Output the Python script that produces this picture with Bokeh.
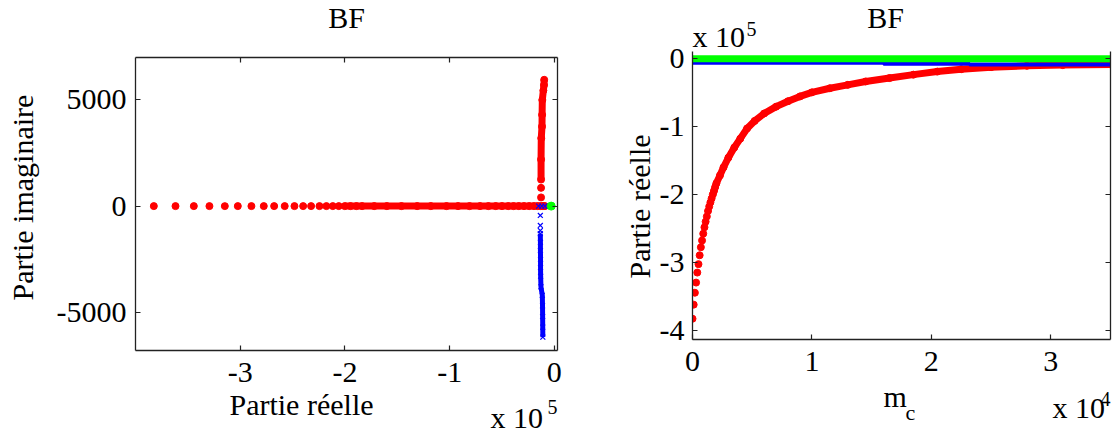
import math
from bokeh.plotting import figure
from bokeh.models import Range1d, FixedTicker, LinearAxis, Label, GridBox
from bokeh.embed import file_html
from bokeh.resources import INLINE

FONT = "Liberation Serif"

# ---------------- data ----------------
# Real eigenvalue branch (red): m_c in units of 1e4, real part in units of 1e5
red_mc = [0.00, 0.01, 0.02, 0.03, 0.04, 0.05, 0.06, 0.07, 0.08, 0.09, 0.10,
          0.11, 0.12, 0.13, 0.14, 0.15, 0.16, 0.17, 0.18, 0.19, 0.20,
          0.23, 0.26, 0.30, 0.35, 0.40, 0.457, 0.52, 0.60, 0.70, 0.80, 0.90,
          1.00, 1.15, 1.30, 1.45, 1.65, 1.85, 2.05, 2.25, 2.50, 2.80, 3.10, 3.50]
red_re = [-3.825, -3.618, -3.443, -3.294, -3.147, -3.023, -2.893, -2.775, -2.676, -2.575, -2.482,
          -2.399, -2.323, -2.243, -2.177, -2.116, -2.059, -2.002, -1.947, -1.890, -1.836,
          -1.72, -1.60, -1.46, -1.31, -1.18, -1.03, -0.92, -0.81, -0.71, -0.63, -0.56,
          -0.50, -0.44, -0.39, -0.34, -0.29, -0.24, -0.195, -0.16, -0.13, -0.11, -0.10, -0.09]
red_im = [0.0] * len(red_re)

# complex branch, positive imaginary part (red): real in 1e5, imaginary as is
redc_re = [-0.127, -0.127, -0.127, -0.127, -0.125, -0.118, -0.117, -0.115, -0.105, -0.099, -0.097]
redc_im = [410, 860, 1250, 2200, 3200, 3750, 4300, 5000, 5450, 5700, 5950]

# complex branch, negative imaginary part (blue crosses)
bluec_re = [-0.134, -0.134, -0.134, -0.134, -0.133, -0.133, -0.132, -0.132, -0.131, -0.128,
            -0.115, -0.113, -0.112, -0.111, -0.110]
bluec_im = [-440, -910, -1150, -1300, -1700, -2100, -2500, -2900, -3300, -3800,
            -4200, -4700, -5200, -5700, -6170]
# blue crosses on the real axis
blue0_re = [-0.15, -0.12, -0.09, -0.06, -0.04]
blue0_im = [0, 0, 0, 0, 0]
# green pole
green_re_l = [-0.03]
green_im_l = [0]

# right panel: blue and green real parts vs m_c
blue_mc = [0.0, 1.6, 1.6, 2.32, 2.32, 3.5]
blue_re = [-0.064, -0.064, -0.08, -0.08, -0.09, -0.09]
green_mc = [0.0, 3.5]
green_re = [-0.007, -0.007]

# ticks
l_xticks = [-3, -2, -1, 0]
l_yticks = [-5000, 0, 5000]
r_xticks = [0, 1, 2, 3]
r_yticks = [-4, -3, -2, -1, 0]

RED, BLUE, GREEN = "#ff0000", "#0000ff", "#00ff00"


def style_axis(ax, ticks, standoff, labels=True):
    ax.ticker = FixedTicker(ticks=ticks)
    if labels:
        ax.major_label_overrides = {t: str(t) for t in ticks}
        ax.major_label_text_font_size = "30px"
        ax.major_label_standoff = standoff
    else:
        ax.major_label_overrides = {t: "" for t in ticks}
        ax.major_label_text_font_size = "0px"
        ax.major_label_standoff = 0
    ax.major_label_text_font = FONT
    ax.major_label_text_color = "black"
    ax.major_tick_in = 5
    ax.major_tick_out = 0
    ax.minor_tick_line_color = None
    ax.axis_line_color = "#222222"
    ax.axis_line_width = 1.3
    ax.major_tick_line_color = "#222222"
    ax.major_tick_line_width = 1.2


# ---------------- left panel ----------------
LX0, LX1, LY0, LY1 = -4.0, 0.03, -6800, 7000
p1 = figure(width=585, height=433, x_range=Range1d(LX0, LX1), y_range=Range1d(LY0, LY1),
            output_backend="svg", toolbar_location=None, frame_align=False,
            min_border_left=135, min_border_right=28, min_border_top=57, min_border_bottom=83)
p1.grid.visible = False
p1.outline_line_color = None
style_axis(p1.xaxis[0], l_xticks, 12)
style_axis(p1.yaxis[0], l_yticks, 9)
for loc, t in (("above", l_xticks), ("right", l_yticks)):
    ax = LinearAxis()
    style_axis(ax, t, 0, labels=False)
    p1.add_layout(ax, loc)

p1.line(red_re[17:], red_im[17:], line_color=RED, line_width=7)
p1.scatter(red_re, red_im, marker="circle", size=7, fill_color=RED, line_color=RED)
p1.line(redc_re[2:], redc_im[2:], line_color=RED, line_width=7)
p1.scatter(redc_re, redc_im, marker="circle", size=7, fill_color=RED, line_color=RED)
p1.line(bluec_re[3:], bluec_im[3:], line_color=BLUE, line_width=5)
p1.scatter(bluec_re, bluec_im, marker="x", size=7, line_color=BLUE, line_width=1.2)
p1.scatter(blue0_re, blue0_im, marker="x", size=7, line_color=BLUE, line_width=1.2)
p1.scatter(green_re_l, green_im_l, marker="circle", size=8, fill_color=GREEN, line_color=GREEN)

# ---------------- right panel ----------------
RX0, RX1, RY0, RY1 = 0.0, 3.5, -4.13, 0.10
p2 = figure(width=530, height=433, x_range=Range1d(RX0, RX1), y_range=Range1d(RY0, RY1),
            output_backend="svg", toolbar_location=None, frame_align=False,
            min_border_left=107, min_border_right=5, min_border_top=51, min_border_bottom=94)
p2.grid.visible = False
p2.outline_line_color = None
style_axis(p2.xaxis[0], r_xticks, 12)
style_axis(p2.yaxis[0], r_yticks, 8)
axr = LinearAxis()
style_axis(axr, r_yticks, 0, labels=False)
p2.add_layout(axr, "right")

p2.line(red_mc[17:], red_re[17:], line_color=RED, line_width=7)
p2.scatter(red_mc, red_re, marker="circle", size=7, fill_color=RED, line_color=RED)
p2.line(blue_mc, blue_re, line_color=BLUE, line_width=4)
p2.line(green_mc, green_re, line_color=GREEN, line_width=7)

# ---------------- text overlay (page pixel coordinates) ----------------
ov = figure(width=1115, height=433, x_range=Range1d(0, 1115), y_range=Range1d(433, 0),
            x_axis_location=None, y_axis_location=None, output_backend="svg",
            toolbar_location=None, min_border=0, frame_align=False,
            background_fill_color=None, border_fill_color=None, outline_line_color=None)
ov.grid.visible = False


def put(x, y, text, size=30, align="left", rotated=False):
    # shift that compensates the renderer's baseline placement (proportional to font size)
    d = 0.36 * size
    if rotated:
        x, angle = x - d, math.pi / 2
    else:
        y, angle = y - d, 0.0
    ov.add_layout(Label(x=x, y=y, text=text, text_font=FONT, text_font_size=f"{size}px",
                        text_align=align, text_baseline="alphabetic", angle=angle,
                        text_color="black"))


# left panel texts
put(346, 28, "BF", align="center")
put(301, 415, "Partie réelle", align="center")
put(490, 428, "x 10")
put(547, 414, "5", size=20)
put(33, 197, "Partie imaginaire", align="center", rotated=True)
# right panel texts
put(885, 28, "BF", align="center")
put(692, 47, "x 10")
put(746, 36, "5", size=20)
put(650, 206, "Partie réelle", align="center", rotated=True)
put(883, 407, "m")
put(905, 420, "c", size=22)
put(1052, 418, "x 10")
put(1100, 406, "4", size=20)

layout = GridBox(children=[(p1, 0, 0), (p2, 0, 1), (ov, 0, 0, 1, 2)])
open("out.html", "w").write(file_html(layout, INLINE))
